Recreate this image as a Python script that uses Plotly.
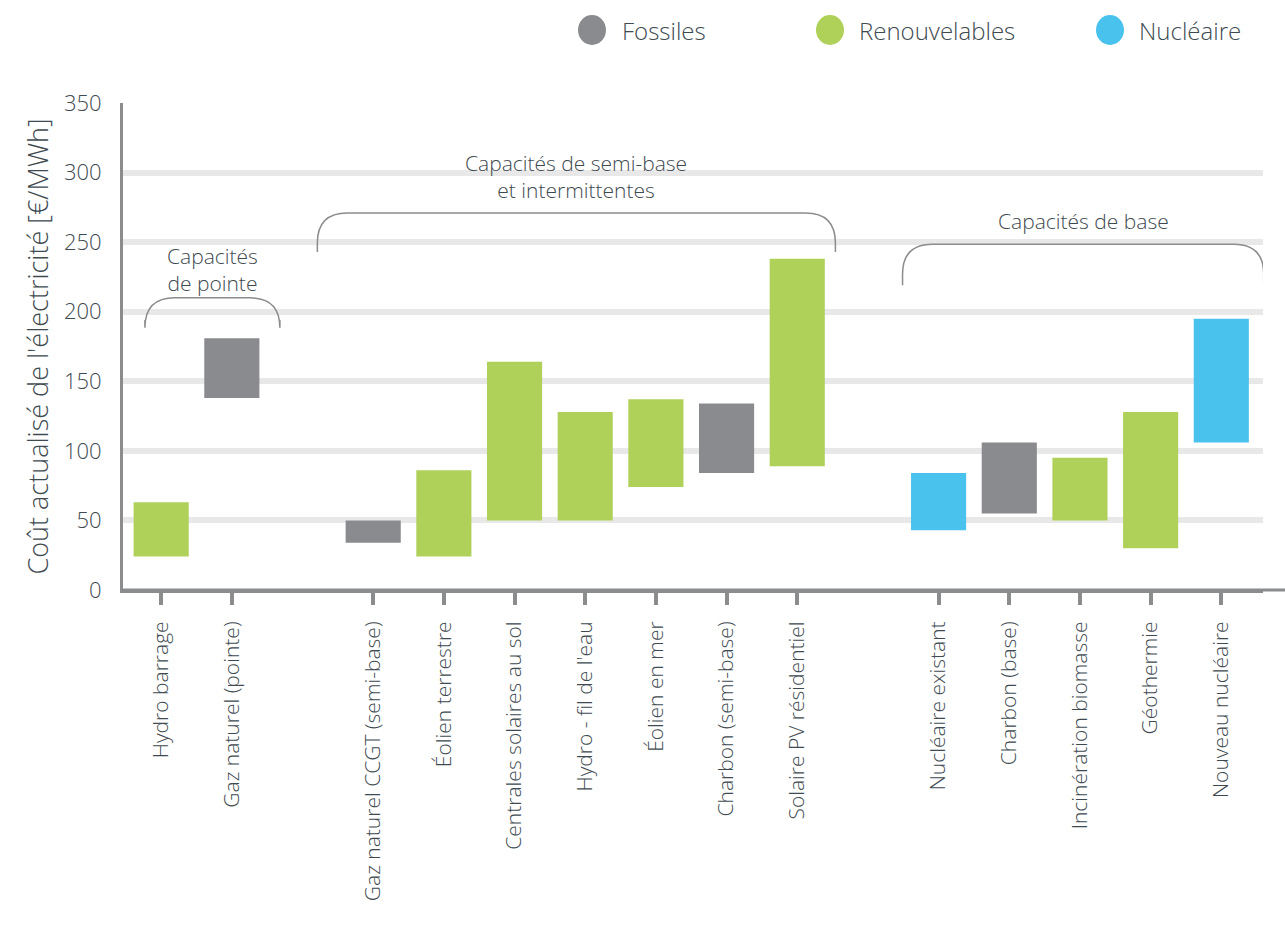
import plotly.graph_objects as go

# LCOE ranges (€/MWh) per technology
categories = [
    "Hydro barrage", "Gaz naturel (pointe)",
    "Gaz naturel CCGT (semi-base)", "Éolien terrestre", "Centrales solaires au sol",
    "Hydro - fil de l'eau", "Éolien en mer", "Charbon (semi-base)", "Solaire PV résidentiel",
    "Nucléaire existant", "Charbon (base)", "Incinération biomasse", "Géothermie",
    "Nouveau nucléaire",
]
cost_low = [24, 138, 34, 24, 50, 50, 74, 84, 89, 43, 55, 50, 30, 106]
cost_high = [63, 181, 50, 86, 164, 128, 137, 134, 238, 84, 106, 95, 128, 195]
family = [
    "Renouvelables", "Fossiles",
    "Fossiles", "Renouvelables", "Renouvelables", "Renouvelables", "Renouvelables",
    "Fossiles", "Renouvelables",
    "Nucléaire", "Fossiles", "Renouvelables", "Renouvelables", "Nucléaire",
]
group_sizes = [2, 7, 5]
group_labels = ["Capacités<br>de pointe", "Capacités de semi-base<br>et intermittentes",
                "Capacités de base"]
legend_names = ["Fossiles", "Renouvelables", "Nucléaire"]
y_ticks = [0, 50, 100, 150, 200, 250, 300, 350]

family_colors = {"Fossiles": "#898b8e", "Renouvelables": "#afd15a", "Nucléaire": "#4ac2ee"}
TEXT = "#3e4a50"
AXIS = "#8a8c8e"
FONT = "Open Sans"

# slot positions: one empty slot between groups
slots = []
pos = 0
for size in group_sizes:
    for _ in range(size):
        slots.append(pos)
        pos += 1
    pos += 1

W, H = 1285, 938
L, R, T, B = 123, 22, 103, 348
X_RANGE = [-0.54, 15.59]
Y_RANGE = [0, 350]
px_per_x = (W - L - R) / (X_RANGE[1] - X_RANGE[0])
px_per_y = (H - T - B) / (Y_RANGE[1] - Y_RANGE[0])

fig = go.Figure()
for fam in legend_names:
    idx = [i for i, f in enumerate(family) if f == fam]
    fig.add_trace(go.Bar(
        x=[slots[i] for i in idx],
        y=[cost_high[i] - cost_low[i] for i in idx],
        base=[cost_low[i] for i in idx],
        width=0.78,
        marker=dict(color=family_colors[fam], line=dict(width=0)),
        name=fam,
        showlegend=False,
        hovertext=[categories[i] for i in idx],
    ))

shapes = []
annotations = []

# curly brackets above each group
def bracket(x0, x1, ytop, ybot, r_px=30):
    rx = r_px / px_per_x
    ry = r_px / px_per_y
    path = (f"M {x0},{ybot} L {x0},{ytop - ry} Q {x0},{ytop} {x0 + rx},{ytop} "
            f"L {x1 - rx},{ytop} Q {x1},{ytop} {x1},{ytop - ry} L {x1},{ybot}")
    return dict(type="path", path=path, xref="x", yref="y",
                line=dict(color=AXIS, width=1.5), layer="above")

brackets = [(-0.23, 1.68, 210, 194), (2.21, 9.54, 271, 243), (10.49, 15.6, 248.5, 219)]
for b in brackets:
    shapes.append(bracket(*b))

label_pos = [(0.73, 230), (5.87, 297), (13.05, 265)]
for (lx, ly), txt in zip(label_pos, group_labels):
    annotations.append(dict(x=lx, y=ly, xref="x", yref="y", text=txt, showarrow=False,
                            font=dict(family=FONT, size=21, color=TEXT, weight=300),
                            xanchor="center", yanchor="middle", align="center"))

# extend the bottom axis line to the right edge
shapes.append(dict(type="line", xref="paper", yref="paper", x0=0, x1=(W - L) / (W - L - R),
                   y0=0, y1=0, line=dict(color=AXIS, width=3), layer="above"))

# legend drawn as circles + labels along the top
def to_paper(px, py):
    return (px - L) / (W - L - R), (H - B - py) / (H - T - B)

legend_px = [(592, 620), (830, 857), (1110, 1137)]
for name, (cx, tx) in zip(legend_names, legend_px):
    ax0, ay0 = to_paper(cx - 14, 45)
    ax1, ay1 = to_paper(cx + 14, 15)
    shapes.append(dict(type="circle", xref="paper", yref="paper", x0=ax0, x1=ax1,
                       y0=ay0, y1=ay1, fillcolor=family_colors[name],
                       line=dict(width=0)))
    tpx, tpy = to_paper(tx, 30)
    annotations.append(dict(x=tpx, y=tpy, xref="paper", yref="paper", text=name,
                            showarrow=False, xanchor="left", yanchor="middle",
                            font=dict(family=FONT, size=24, color=TEXT, weight=300)))

fig.update_layout(
    width=W, height=H,
    margin=dict(l=L, r=R, t=T, b=B, autoexpand=False),
    paper_bgcolor="white", plot_bgcolor="white",
    barmode="overlay",
    showlegend=False,
    shapes=shapes,
    annotations=annotations,
    font=dict(family=FONT, color=TEXT),
    xaxis=dict(
        range=X_RANGE, tickmode="array", tickvals=slots, ticktext=categories,
        tickangle=-90, showgrid=False, zeroline=False,
        showline=True, linecolor=AXIS, linewidth=3,
        ticks="outside", ticklen=12, tickwidth=4, tickcolor=AXIS,
        ticklabelstandoff=8,
        tickfont=dict(family=FONT, size=21, color=TEXT, weight=300),
    ),
    yaxis=dict(
        range=Y_RANGE, tickmode="array", tickvals=y_ticks,
        showgrid=True, gridcolor="#e8e8e8", gridwidth=6,
        zeroline=False, showline=True, linecolor=AXIS, linewidth=3,
        ticks="", ticklabelstandoff=14,
        tickfont=dict(family=FONT, size=22, color=TEXT, weight=300),
        title=dict(text="Coût actualisé de l'électricité [€/MWh]", standoff=8,
                   font=dict(family=FONT, size=27, color=TEXT, weight=300)),
    ),
)

fig.write_html("out.html")
